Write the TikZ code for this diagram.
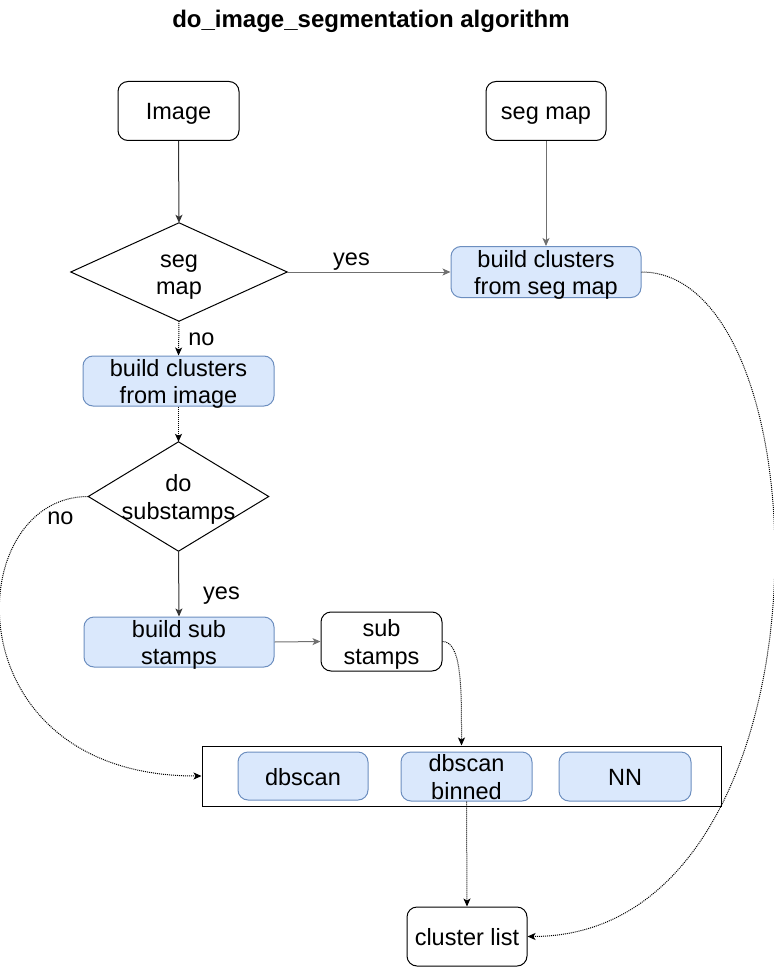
\documentclass[tikz,border=0pt]{standalone}
\usepackage{fontspec}
\setmainfont{Liberation Sans}
\usetikzlibrary{arrows.meta}
\definecolor{bfill}{HTML}{DAE8FC}
\definecolor{bdraw}{HTML}{6C8EBF}
\definecolor{edgedark}{HTML}{333333}
\definecolor{edgegray}{HTML}{707070}
\newcommand\tS{\rule{0pt}{24pt}}
\newcommand\bS{\rule[-6pt]{0pt}{6pt}}
\tikzset{
  maintext/.style={font=\fontsize{23.5}{27.5}\selectfont},
  plainbox/.style={draw=black, rounded corners=10pt, line width=1pt, align=center, inner xsep=0pt, inner ysep=-6pt, maintext},
  bluebox/.style={plainbox, draw=bdraw, fill=bfill},
  decision/.style={inner sep=0pt, align=center, maintext},
  diamondline/.style={draw=black, line width=1pt},
  lbl/.style={maintext, inner sep=0pt},
  arr/.style={-{Stealth[length=8pt,width=7pt,inset=2pt]}, line width=1pt, draw=edgedark},
  arrgray/.style={arr, draw=edgegray},
  dots/.style={arr, draw=black, dash pattern=on 1pt off 1pt},
}
\begin{document}
\begin{tikzpicture}[x=1pt,y=-1pt]
\useasboundingbox (0,0) rectangle (773,968);

\node[font=\fontsize{24}{28}\selectfont\bfseries, inner sep=0pt] (title) at (371,21) {do\_image\_segmentation algorithm};

\node[plainbox, minimum width=121pt, minimum height=59pt] (img) at (178.5,111) {\tS Image\bS};
\node[plainbox, minimum width=120pt, minimum height=59pt] (segmap) at (546,111) {\tS seg map\bS};

\node[decision, minimum width=216pt, minimum height=98pt] (dseg) at (179,272) {\tS seg\\map\bS};
\draw[diamondline] (dseg.north) -- (dseg.east) -- (dseg.south) -- (dseg.west) -- cycle;

\node[bluebox, minimum width=190pt, minimum height=51pt] (bcseg) at (546,272) {\tS build clusters\\from seg map\bS};
\node[bluebox, minimum width=191pt, minimum height=50pt] (bcimg) at (178.5,381) {\tS build clusters\\from image\bS};

\node[decision, minimum width=180pt, minimum height=109pt] (dsub) at (178.5,496.5) {\tS do\\substamps\bS};
\draw[diamondline] (dsub.north) -- (dsub.east) -- (dsub.south) -- (dsub.west) -- cycle;

\node[bluebox, minimum width=190pt, minimum height=50pt] (bss) at (179,642) {\tS build sub\\stamps\bS};
\node[plainbox, minimum width=121pt, minimum height=59pt] (ss) at (381.5,641.5) {\tS sub\\stamps\bS};

\node[draw=black, line width=1pt, minimum width=519pt, minimum height=60pt, inner sep=0pt] (grp) at (461.5,776) {};
\node[bluebox, minimum width=130pt, minimum height=48pt] (db) at (303,776) {\tS dbscan\bS};
\node[bluebox, minimum width=131pt, minimum height=49pt] (dbb) at (466.5,776.5) {\tS dbscan\\binned\bS};
\node[bluebox, minimum width=132pt, minimum height=49pt] (nn) at (625,776.5) {\tS NN\bS};

\node[plainbox, minimum width=120pt, minimum height=59pt] (cl) at (467,936.5) {\tS cluster list\bS};

% labels
\node[lbl] (lyes1) at (351.5,262) {yes};
\node[lbl] (lno1) at (201.5,339) {no};
\node[lbl] (lno2) at (60.5,518.5) {no};
\node[lbl] (lyes2) at (221.5,596) {yes};

% connectors
\draw[arr] (img.south) -- (dseg.north);
\draw[arrgray] (segmap.south) -- (bcseg.north);
\draw[arrgray] (dseg.east) -- (bcseg.west);
\draw[dots] (dseg.south) -- (bcimg.north);
\draw[dots] (bcimg.south) -- (dsub.north);
\draw[arr] (dsub.south) -- (bss.north);
\draw[arrgray] (bss.east) -- (ss.west);
\draw[dots] (dsub.west) .. controls (-40,496.5) and (-50,776) .. (grp.west);
\draw[dots] (ss.east) .. controls (462,641.5) and (461.5,690) .. (grp.north);
\draw[dots] (dbb.south) -- (cl.north);
\draw[dots] (bcseg.east) .. controls (830,272) and (840,936) .. (cl.east);
\end{tikzpicture}
\end{document}
